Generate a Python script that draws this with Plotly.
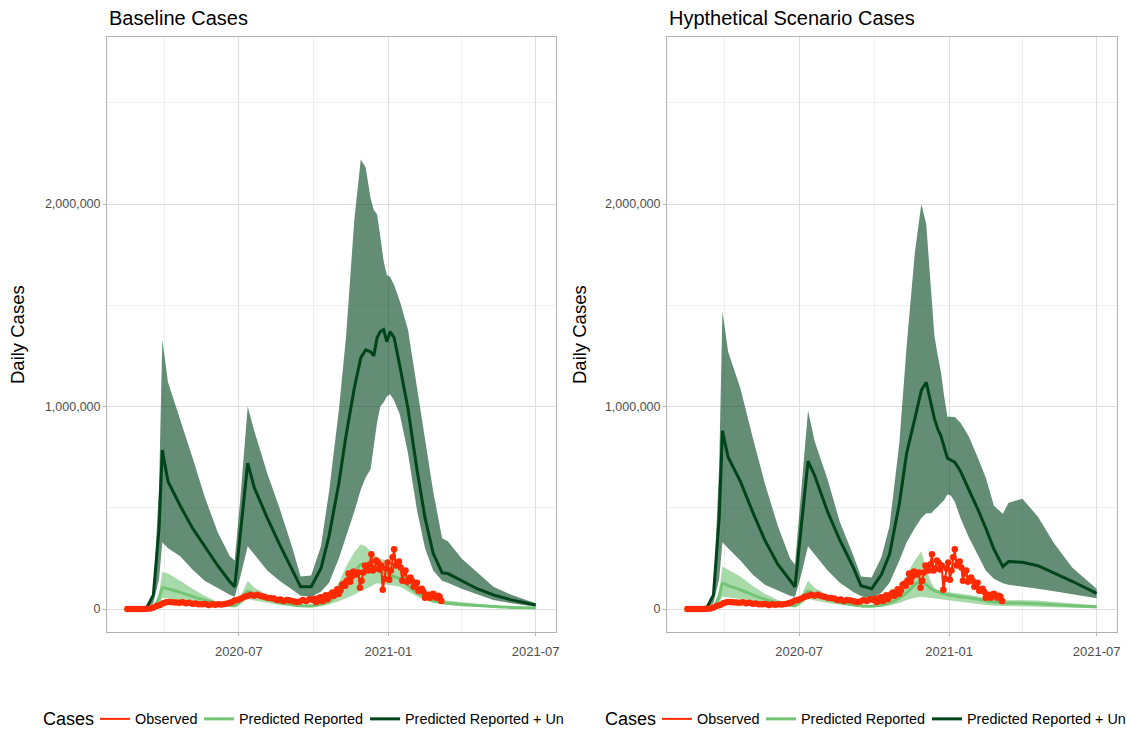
import plotly.graph_objects as go
import pandas as pd

# ---------------- data (model values in millions, observed in thousands) ----------------
model_dates = ["2020-02-15", "2020-03-01", "2020-03-10", "2020-03-18", "2020-03-25", "2020-03-29",
               "2020-04-05", "2020-04-20", "2020-05-05", "2020-05-20", "2020-06-05", "2020-06-20",
               "2020-06-26", "2020-07-03", "2020-07-12", "2020-07-20", "2020-08-05", "2020-08-20",
               "2020-09-05", "2020-09-15", "2020-09-28", "2020-10-10", "2020-10-20", "2020-11-01",
               "2020-11-10", "2020-11-20", "2020-11-28", "2020-12-04", "2020-12-10", "2020-12-14",
               "2020-12-18", "2020-12-22", "2020-12-26", "2020-12-30", "2021-01-03", "2021-01-08",
               "2021-01-15", "2021-01-25", "2021-02-05", "2021-02-15", "2021-02-25", "2021-03-08",
               "2021-03-15", "2021-04-01", "2021-04-20", "2021-05-10", "2021-06-01", "2021-07-01"]

# Baseline: Predicted Reported + Unreported
base_un_hi = [0, 0.003, 0.02, 0.08, 0.6, 1.33, 1.12, 0.94, 0.75, 0.555, 0.38, 0.26, 0.24,
              0.55, 1.0, 0.88, 0.67, 0.50, 0.30, 0.16,
              0.165, 0.31, 0.58, 0.98, 1.35, 1.92, 2.22, 2.18, 2.03, 1.97,
              1.95, 1.84, 1.72, 1.65, 1.64, 1.60, 1.52, 1.38, 1.09, 0.84,
              0.58, 0.35, 0.335, 0.25, 0.18, 0.11, 0.07, 0.028]
base_un_mid = [0, 0.002, 0.008, 0.07, 0.40, 0.785, 0.63, 0.51, 0.40, 0.31, 0.215, 0.135, 0.11,
               0.375, 0.72, 0.60, 0.45, 0.32, 0.19, 0.11,
               0.11, 0.20, 0.36, 0.62, 0.86, 1.09, 1.24, 1.28, 1.27, 1.25,
               1.34, 1.37, 1.38, 1.32, 1.37, 1.34, 1.20, 0.99, 0.69, 0.45,
               0.275, 0.178, 0.175, 0.14, 0.10, 0.07, 0.045, 0.02]
base_un_lo = [0, 0.001, 0.003, 0.03, 0.15, 0.33, 0.30, 0.26, 0.195, 0.14, 0.105, 0.07, 0.06,
              0.16, 0.31, 0.27, 0.19, 0.14, 0.095, 0.065,
              0.06, 0.085, 0.13, 0.25, 0.36, 0.48, 0.59, 0.65, 0.69, 0.80,
              0.92, 1.00, 1.02, 1.05, 1.06, 1.03, 0.96, 0.77, 0.49, 0.30,
              0.19, 0.14, 0.13, 0.10, 0.075, 0.045, 0.028, 0.011]

# Baseline: Predicted Reported
base_rep_hi = [0, 0.001, 0.003, 0.01, 0.08, 0.184, 0.175, 0.14, 0.10, 0.065, 0.035, 0.022, 0.022,
               0.06, 0.14, 0.105, 0.07, 0.045, 0.03, 0.022,
               0.022, 0.04, 0.06, 0.13, 0.21, 0.28, 0.32, 0.31, 0.285, 0.27,
               0.258, 0.25, 0.245, 0.238, 0.23, 0.22, 0.20, 0.153, 0.11, 0.08,
               0.054, 0.045, 0.042, 0.033, 0.024, 0.017, 0.011, 0.007]
base_rep_mid = [0, 0.0005, 0.002, 0.006, 0.05, 0.105, 0.10, 0.082, 0.062, 0.044, 0.028, 0.018, 0.016,
                0.04, 0.088, 0.07, 0.048, 0.032, 0.021, 0.016,
                0.015, 0.025, 0.038, 0.075, 0.13, 0.18, 0.22, 0.215, 0.20, 0.19,
                0.19, 0.185, 0.18, 0.175, 0.17, 0.16, 0.15, 0.115, 0.08, 0.058,
                0.04, 0.032, 0.028, 0.022, 0.017, 0.012, 0.008, 0.005]
base_rep_lo = [0, 0, 0.001, 0.003, 0.025, 0.055, 0.052, 0.045, 0.035, 0.025, 0.017, 0.011, 0.010,
               0.022, 0.05, 0.042, 0.03, 0.02, 0.013, 0.01,
               0.009, 0.013, 0.022, 0.038, 0.052, 0.07, 0.09, 0.10, 0.11, 0.12,
               0.127, 0.125, 0.12, 0.12, 0.118, 0.115, 0.11, 0.088, 0.062, 0.045,
               0.03, 0.024, 0.02, 0.014, 0.011, 0.008, 0.005, 0.003]

# Hypothetical: Predicted Reported + Unreported
hyp_un_hi = [0, 0.003, 0.02, 0.08, 0.7, 1.47, 1.27, 1.09, 0.85, 0.62, 0.41, 0.25, 0.22,
             0.55, 0.98, 0.83, 0.64, 0.43, 0.27, 0.16,
             0.155, 0.255, 0.41, 0.82, 1.30, 1.76, 2.0, 1.90, 1.58, 1.35,
             1.255, 1.17, 1.05, 0.95, 0.95, 0.948, 0.92, 0.855, 0.75, 0.65,
             0.51, 0.47, 0.525, 0.545, 0.455, 0.324, 0.205, 0.10]
hyp_un_mid = [0, 0.002, 0.008, 0.07, 0.45, 0.88, 0.75, 0.63, 0.48, 0.34, 0.22, 0.14, 0.11,
              0.38, 0.73, 0.66, 0.48, 0.34, 0.21, 0.115,
              0.10, 0.17, 0.27, 0.52, 0.77, 0.94, 1.08, 1.12, 1.02, 0.94,
              0.89, 0.855, 0.80, 0.745, 0.736, 0.725, 0.68, 0.595, 0.495, 0.40,
              0.296, 0.209, 0.234, 0.231, 0.214, 0.177, 0.137, 0.077]
hyp_un_lo = [0, 0.001, 0.003, 0.03, 0.15, 0.33, 0.30, 0.24, 0.17, 0.12, 0.09, 0.065, 0.06,
             0.16, 0.31, 0.27, 0.19, 0.13, 0.085, 0.064,
             0.05, 0.08, 0.13, 0.24, 0.33, 0.40, 0.45, 0.473, 0.473, 0.49,
             0.505, 0.52, 0.538, 0.565, 0.56, 0.53, 0.45, 0.355, 0.265, 0.19,
             0.15, 0.127, 0.12, 0.11, 0.10, 0.088, 0.075, 0.053]

# Hypothetical: Predicted Reported
hyp_rep_hi = [0, 0.001, 0.003, 0.012, 0.09, 0.21, 0.195, 0.16, 0.115, 0.075, 0.045, 0.026, 0.022,
              0.06, 0.14, 0.105, 0.07, 0.045, 0.03, 0.022,
              0.02, 0.03, 0.05, 0.10, 0.17, 0.24, 0.285, 0.20, 0.13, 0.105,
              0.094, 0.09, 0.088, 0.085, 0.082, 0.08, 0.076, 0.07, 0.062, 0.055,
              0.048, 0.045, 0.045, 0.045, 0.042, 0.035, 0.027, 0.018]
hyp_rep_mid = [0, 0.0005, 0.002, 0.007, 0.06, 0.127, 0.115, 0.095, 0.07, 0.048, 0.03, 0.019, 0.016,
               0.04, 0.09, 0.072, 0.049, 0.032, 0.021, 0.015,
               0.014, 0.02, 0.03, 0.055, 0.08, 0.12, 0.14, 0.12, 0.10, 0.09,
               0.085, 0.08, 0.075, 0.07, 0.068, 0.065, 0.06, 0.055, 0.048, 0.04,
               0.034, 0.03, 0.03, 0.029, 0.026, 0.021, 0.016, 0.011]
hyp_rep_lo = [0, 0, 0.001, 0.003, 0.03, 0.06, 0.058, 0.05, 0.04, 0.028, 0.018, 0.012, 0.010,
              0.022, 0.05, 0.042, 0.03, 0.02, 0.013, 0.01,
              0.009, 0.011, 0.017, 0.03, 0.045, 0.055, 0.06, 0.058, 0.055, 0.05,
              0.048, 0.046, 0.044, 0.042, 0.04, 0.038, 0.035, 0.03, 0.025, 0.02,
              0.016, 0.014, 0.014, 0.013, 0.011, 0.009, 0.007, 0.004]

# Observed daily cases (thousands)
# early part: one value every 4 days from 2020-02-15
obs_early_start = "2020-02-15"
obs_early_k = [0, 0, 0, 0, 0, 0.3, 1, 3, 7, 15, 20, 28, 33, 34, 33, 32, 31, 33, 28, 31,
               26, 27, 24, 23, 25, 20, 23, 21, 24, 22, 25, 29, 33, 42, 46, 52, 60, 64, 70, 66,
               70, 64, 60, 55, 54, 52, 45, 47, 40, 44, 42, 38, 35, 37, 45, 40, 48, 44]
# later part: one value every 2 days from 2020-10-02
obs_late_start = "2020-10-02"
obs_late_k = [50, 35, 40, 55, 58, 40, 58, 68, 48, 60, 73, 82, 65, 80, 97,
              75, 92, 120, 125, 115, 140, 175, 135, 160, 185, 175, 170, 180, 105, 140,
              180, 215, 210, 190, 220, 270, 190, 200, 240, 230, 195, 215, 95, 150, 200, 230,
              145, 190, 255, 295, 215, 230, 235, 205, 140, 175, 190, 135, 145, 155, 140,
              110, 120, 130, 90, 95, 100, 85, 55, 65, 70, 55, 70, 75, 65,
              55, 65, 60, 40]

x_ticks = ["2020-07-01", "2021-01-01", "2021-07-01"]
x_minor = ["2020-04-01", "2020-10-01", "2021-04-01"]
y_ticks = [0, 1000000, 2000000]
y_minor = [500000, 1500000, 2500000]
panel_titles = ["Baseline Cases", "Hypthetical Scenario Cases"]
series_names = ["Observed", "Predicted Reported", "Predicted Reported + Un"]
legend_title = "Cases"

# ---------------- style ----------------
W, H = 1127, 729
DARK = "#00441b"
DARK_FILL = "rgba(0,68,27,0.61)"
LIGHT = "#74c476"
LIGHT_FILL = "rgba(116,196,118,0.62)"
RED = "#ff2a00"
FONT = "Liberation Sans, Arial, sans-serif"
M = 1e6

obs_dates = (list(pd.date_range(obs_early_start, periods=len(obs_early_k), freq="4D")) +
             list(pd.date_range(obs_late_start, periods=len(obs_late_k), freq="2D")))
obs_vals = [v * 1000 for v in obs_early_k + obs_late_k]

fig = go.Figure()

# one legend box per entry so each entry sits where the reference puts it
panels = [
    dict(xa="x", ya="y", lgs=("legend", "legend2", "legend3"),
         un=(base_un_lo, base_un_mid, base_un_hi), rep=(base_rep_lo, base_rep_mid, base_rep_hi)),
    dict(xa="x2", ya="y2", lgs=("legend4", "legend5", "legend6"),
         un=(hyp_un_lo, hyp_un_mid, hyp_un_hi), rep=(hyp_rep_lo, hyp_rep_mid, hyp_rep_hi)),
]

rev_dates = model_dates[::-1]
for p in panels:
    ax = dict(xaxis=p["xa"], yaxis=p["ya"])
    ulo, umid, uhi = p["un"]
    rlo, rmid, rhi = p["rep"]
    lg_obs, lg_rep, lg_un = p["lgs"]
    # ribbons
    fig.add_trace(go.Scatter(x=model_dates + rev_dates,
                             y=[v * M for v in uhi] + [v * M for v in ulo[::-1]],
                             fill="toself", fillcolor=DARK_FILL, mode="lines",
                             line=dict(width=0, color=DARK_FILL), hoverinfo="skip",
                             showlegend=False, **ax))
    fig.add_trace(go.Scatter(x=model_dates + rev_dates,
                             y=[v * M for v in rhi] + [v * M for v in rlo[::-1]],
                             fill="toself", fillcolor=LIGHT_FILL, mode="lines",
                             line=dict(width=0, color=LIGHT_FILL), hoverinfo="skip",
                             showlegend=False, **ax))
    # central lines
    fig.add_trace(go.Scatter(x=model_dates, y=[v * M for v in rmid], mode="lines",
                             line=dict(color=LIGHT, width=3, shape="spline", smoothing=0.4),
                             name=series_names[1], legend=lg_rep, **ax))
    fig.add_trace(go.Scatter(x=model_dates, y=[v * M for v in umid], mode="lines",
                             line=dict(color=DARK, width=3), name=series_names[2],
                             legend=lg_un, **ax))
    # observed
    fig.add_trace(go.Scatter(x=obs_dates, y=obs_vals, mode="lines",
                             line=dict(color=RED, width=2), name=series_names[0],
                             legend=lg_obs, **ax))
    fig.add_trace(go.Scatter(x=obs_dates, y=obs_vals, mode="markers",
                             marker=dict(color=RED, size=6.5), showlegend=False,
                             hoverinfo="skip", **ax))

x_doms = [[107 / W, 556 / W], [667 / W, 1117 / W]]
y_dom = [1 - 632 / H, 1 - 37 / H]
x_range = ["2020-01-21", "2021-07-26"]
y_range = [-113600, 2825000]

common_x = dict(type="date", range=x_range, tickvals=x_ticks, tickformat="%Y-%m",
                showgrid=True, gridcolor="#dedede", gridwidth=1,
                minor=dict(tickvals=x_minor, showgrid=True, gridcolor="#efefef", gridwidth=1),
                showline=True, mirror=True, linecolor="#b3b3b3", linewidth=1,
                ticks="outside", ticklen=3, tickcolor="#b3b3b3", tickwidth=1,
                ticklabelstandoff=4,
                tickfont=dict(family=FONT, size=13, color="#4d4d4d"), zeroline=False,
                fixedrange=True)
common_y = dict(range=y_range, tickvals=y_ticks, tickformat=",",
                showgrid=True, gridcolor="#dedede", gridwidth=1,
                minor=dict(tickvals=y_minor, showgrid=True, gridcolor="#efefef", gridwidth=1),
                showline=True, mirror=True, linecolor="#b3b3b3", linewidth=1,
                ticks="outside", ticklen=3, tickcolor="#b3b3b3", tickwidth=1,
                tickfont=dict(family=FONT, size=12.5, color="#4d4d4d"), zeroline=False,
                fixedrange=True)

LEG_Y = 1 - 719 / H
legend_common = dict(orientation="h", yanchor="middle", y=LEG_Y, xanchor="left",
                     bgcolor="rgba(0,0,0,0)", font=dict(family=FONT, size=14.4, color="#000"),
                     itemclick=False, itemdoubleclick=False)
# x (px) where each legend entry's text should start: left panel, then right panel
legend_text_x = [135, 239, 405, 697, 801, 967]

annotations = []
for i, t in enumerate(panel_titles):
    annotations.append(dict(text=t, x=x_doms[i][0], y=1 - 18 / H, xref="paper", yref="paper",
                            xanchor="left", yanchor="middle", showarrow=False,
                            font=dict(family=FONT, size=20, color="#000")))
for xc in [18, 580]:
    annotations.append(dict(text="Daily Cases", x=xc / W, y=1 - 335 / H, xref="paper", yref="paper",
                            xanchor="center", yanchor="middle", textangle=-90, showarrow=False,
                            font=dict(family=FONT, size=18.5, color="#000")))
for xc in [41, 603]:
    annotations.append(dict(text=legend_title, x=xc / W, y=LEG_Y, xref="paper", yref="paper",
                            xanchor="left", yanchor="middle", showarrow=False,
                            font=dict(family=FONT, size=18, color="#000")))

legends = {}
for i, tx in enumerate(legend_text_x):
    key = "legend" if i == 0 else "legend%d" % (i + 1)
    legends[key] = dict(x=(tx - 40) / W, **legend_common)

fig.update_layout(
    width=W, height=H, margin=dict(l=0, r=0, t=0, b=0, autoexpand=False),
    paper_bgcolor="white", plot_bgcolor="white",
    font=dict(family=FONT),
    xaxis=dict(domain=x_doms[0], anchor="y", **common_x),
    yaxis=dict(domain=y_dom, anchor="x", **common_y),
    xaxis2=dict(domain=x_doms[1], anchor="y2", **common_x),
    yaxis2=dict(domain=y_dom, anchor="x2", **common_y),
    annotations=annotations,
    showlegend=True,
    hovermode=False,
    **legends,
)

fig.write_html("out.html")
